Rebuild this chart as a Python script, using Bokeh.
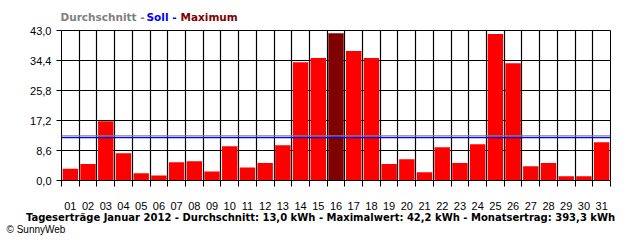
from bokeh.plotting import figure
from bokeh.models import ColumnDataSource, Range1d, FixedTicker, Span
from bokeh.layouts import column
from bokeh.core.properties import value
from bokeh.embed import file_html
from bokeh.resources import INLINE

# ---- data ----
day_labels = ["%02d" % d for d in range(1, 32)]
days = list(range(1, 32))
yields_kwh = [3.4, 4.7, 17.0, 7.8, 2.1, 1.4, 5.2, 5.5, 2.6, 9.8,
              3.7, 5.0, 10.1, 33.9, 35.1, 42.2, 37.1, 35.1, 4.7, 6.1,
              2.4, 9.5, 5.0, 10.4, 42.0, 33.6, 4.1, 5.0, 1.2, 1.2, 11.0]
y_ticks = [0.0, 8.6, 17.2, 25.8, 34.4, 43.0]
y_tick_labels = ["0,0", "8,6", "17,2", "25,8", "34,4", "43,0"]
average_kwh = 12.8
target_kwh = 12.3
max_day = 16
title_top = ["Durchschnitt - ", "Soll - ", "Maximum"]
title_bottom = ("Tageserträge Januar 2012 - Durchschnitt: 13,0 kWh - "
                "Maximalwert: 42,2 kWh - Monatsertrag: 393,3 kWh")
credit = "© SunnyWeb"

FONT = "Liberation Sans"
BFONT = "DejaVu Sans"
W = 640


def text_strip(h):
    f = figure(width=W, height=h, output_backend="svg", toolbar_location=None,
               x_range=Range1d(0, W), y_range=Range1d(0, h),
               x_axis_location=None, y_axis_location=None,
               min_border=0, min_border_left=0, min_border_right=0,
               min_border_top=0, min_border_bottom=0, frame_align=False)
    f.grid.visible = False
    f.outline_line_color = None
    f.background_fill_color = "white"
    f.border_fill_color = "white"
    return f


# ---- top legend strip ----
top_h = 25
top = text_strip(top_h)
top_src = ColumnDataSource(dict(x=[60, 146, 180], y=[top_h - 16] * 3,
                                text=title_top,
                                color=["#808080", "#0000FF", "#800000"]))
top.text(x="x", y="y", text="text", text_color="color", source=top_src,
         text_font=value(BFONT), text_font_style="bold",
         text_font_size="10.5px", text_baseline="middle", text_align="left")

# ---- main chart ----
main_h = 187
p = figure(width=W, height=main_h, output_backend="svg", toolbar_location=None,
           x_range=Range1d(0.5, 31.5), y_range=Range1d(0, 43),
           min_border_left=61, min_border_right=30, min_border_top=5,
           min_border_bottom=32, frame_align=False)
p.background_fill_color = "white"
p.border_fill_color = "white"
p.outline_line_color = "black"
p.outline_line_width = 1

colors = ["#800000" if d == max_day else "#FF0000" for d in days]
src = ColumnDataSource(dict(x=days, top=yields_kwh, color=colors))
p.vbar(x="x", top="top", bottom=0, width=0.87, fill_color="color",
       line_color=None, source=src)

boundaries = [d - 0.5 for d in days] + [days[-1] + 0.5]

xa = p.xaxis[0]
xa.ticker = FixedTicker(ticks=days, minor_ticks=boundaries)
xa.major_label_overrides = {d: lab for d, lab in zip(days, day_labels)}
xa.major_tick_out = 0
xa.major_tick_in = 0
xa.minor_tick_out = 6
xa.minor_tick_in = 0
xa.minor_tick_line_color = "black"
xa.axis_line_color = "black"
xa.major_label_standoff = 15
xa.major_label_text_font = FONT
xa.major_label_text_font_size = "11px"
xa.major_label_text_color = "black"

ya = p.yaxis[0]
ya.ticker = FixedTicker(ticks=y_ticks)
ya.major_label_overrides = {t: lab for t, lab in zip(y_ticks, y_tick_labels)}
ya.major_tick_out = 5
ya.major_tick_in = 0
ya.minor_tick_out = 0
ya.minor_tick_in = 0
ya.axis_line_color = "black"
ya.major_tick_line_color = "black"
ya.major_label_standoff = 5
ya.major_label_text_font = FONT
ya.major_label_text_font_size = "11px"
ya.major_label_text_color = "black"

p.xgrid.ticker = FixedTicker(ticks=boundaries)
for g in (p.xgrid, p.ygrid):
    g.grid_line_color = "black"
    g.grid_line_width = 1.2
    g.grid_line_alpha = 1

p.add_layout(Span(location=average_kwh, dimension="width",
                  line_color="#808080", line_width=1.2))
p.add_layout(Span(location=target_kwh, dimension="width",
                  line_color="#0000FF", line_width=1.2))

# ---- bottom strip ----
bot_h = 240 - top_h - main_h
bot = text_strip(bot_h)
bot.text(x=[320], y=[bot_h - 4.5], text=[title_bottom], text_color="black",
         text_font=value(BFONT), text_font_style="bold",
         text_font_size="10px", text_baseline="middle", text_align="center")
bot.text(x=[6], y=[bot_h - 17], text=[credit], text_color="black",
         text_font=value(FONT), text_font_size="10px",
         text_baseline="middle", text_align="left")

layout = column(top, p, bot, spacing=0)
open("out.html", "w").write(file_html(layout, INLINE))
